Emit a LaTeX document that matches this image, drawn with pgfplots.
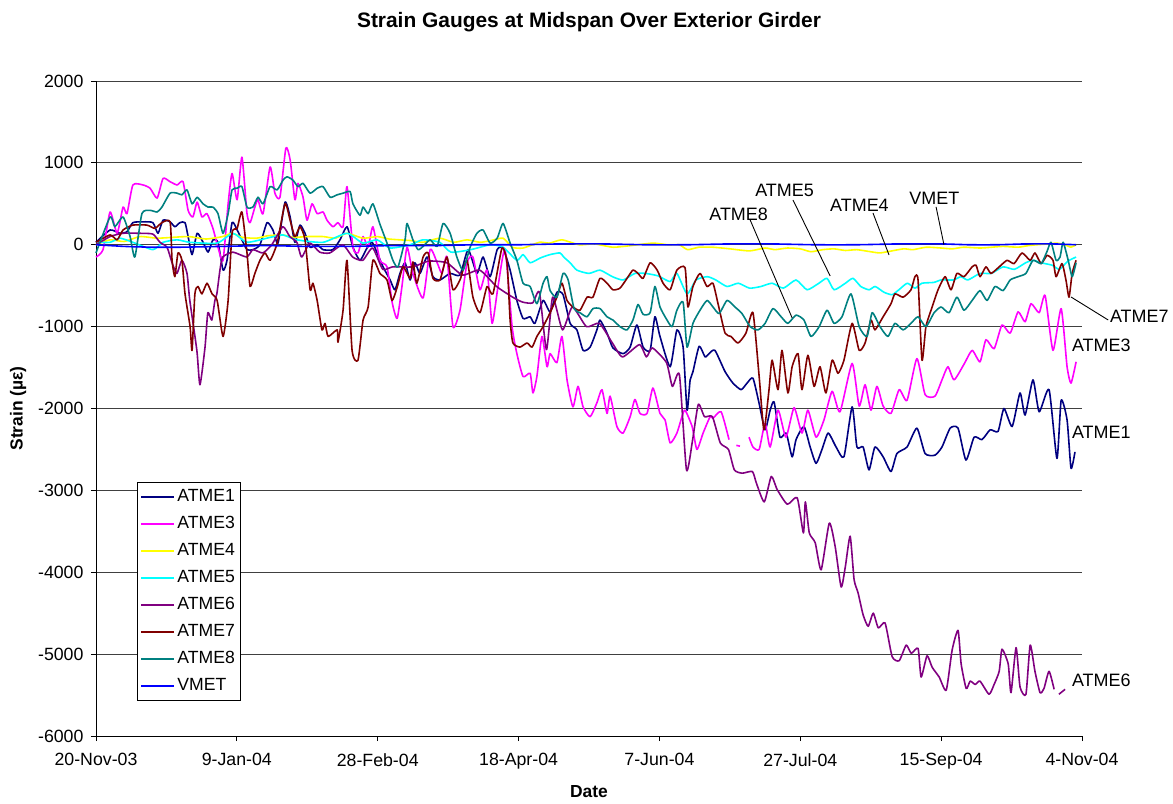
\documentclass[border=0pt]{standalone}
\usepackage{fontspec}
\setmainfont{Liberation Sans}
\usepackage{pgfplots}
\pgfplotsset{compat=1.18}
\definecolor{cAa}{RGB}{0,0,128}
\definecolor{cAc}{RGB}{255,0,255}
\definecolor{cAd}{RGB}{255,255,0}
\definecolor{cAe}{RGB}{0,255,255}
\definecolor{cAf}{RGB}{128,0,128}
\definecolor{cAg}{RGB}{128,0,0}
\definecolor{cAh}{RGB}{0,128,128}
\definecolor{cV}{RGB}{0,0,255}
\newcommand{\af}{\fontsize{18}{20}\selectfont}
\begin{document}
\begin{tikzpicture}
\begin{axis}[
  at={(96bp,68bp)}, anchor=south west,
  scale only axis, width=986bp, height=655bp,
  xmin=0, xmax=350, ymin=-6000, ymax=2000,
  axis x line*=bottom, axis y line*=left,
  axis line style={-, black, line width=1bp},
  xtick={0,50,...,350},
  xticklabels={20-Nov-03,9-Jan-04,28-Feb-04,18-Apr-04,7-Jun-04,27-Jul-04,15-Sep-04,4-Nov-04},
  ytick={-6000,-5000,...,2000},
  yticklabels={-6000,-5000,-4000,-3000,-2000,-1000,0,1000,2000},
  ymajorgrids, grid style={black!75, line width=0.9bp},
  tick align=outside, major tick length=5bp,
  tick style={black, line width=1bp},
  ticklabel style={font=\fontsize{17.8}{20}\selectfont},
  xticklabel style={yshift=-9bp},
  yticklabel style={xshift=-4bp},
  title={Strain Gauges at Midspan Over Exterior Girder},
  title style={font=\bfseries\fontsize{21}{24}\selectfont, at={(0.5,1.0805)}, anchor=center},
  xlabel={Date},
  xlabel style={font=\bfseries\fontsize{17.5}{20}\selectfont, at={(0.5,-0.085)}, anchor=center},
  ylabel={Strain (µε)},
  ylabel style={font=\bfseries\fontsize{17.5}{20}\selectfont, at={(-0.0791,0.5)}, anchor=center},
  clip=false,
  unbounded coords=jump,
  every axis plot/.append style={line width=1.6bp, line join=round, no markers, smooth, tension=0.35},
  legend cell align=left,
  legend style={at={(0.0416,0.388)}, anchor=north west, draw=black, line width=0.8bp,
    fill=white, font=\fontsize{17.7}{20}\selectfont, inner xsep=3bp, inner ysep=1bp,
    row sep=0pt,
    nodes={inner sep=0bp, text height=13bp, text depth=4bp, inner ysep=5bp, inner xsep=2.5bp}},
  legend image code/.code={\draw[#1, line width=1.5bp, sharp plot] (0bp,0bp) -- (33bp,0bp);},
]
% ATME1
\addplot[cAa] coordinates {(0,30)(5,180)(8.5,140)(11,160)(13.1,270)(16.7,280)(20.2,270)(22,140)(23.8,300)(26.3,280)(28,220)(29.8,270)(31.6,270)(32.7,100)(34.1,-120)(35.9,140)(38,30)(39.8,-90)(41.5,60)(43.3,30)(45.1,-310)(46.5,-190)(48.3,270)(50.1,180)(51.8,60)(53.6,-60)(55.7,-60)(58.2,0)(60.7,270)(62.8,180)(64.6,20)(67.1,520)(68.9,340)(70.6,30)(72.4,240)(74.2,140)(76,-30)(78.5,0)(80.6,-60)(84.1,-60)(86.6,60)(89.1,220)(91.2,-30)(93.7,-190)(96.2,-40)(98,30)(99.8,-100)(101.9,-270)(104.4,-430)(106.1,-550)(107.9,-350)(109.7,-220)(111.5,-430)(113.2,-220)(115,-350)(117.5,-150)(119.6,-390)(122.1,-430)(125.7,-350)(129.2,-370)(132.1,-60)(135.2,-350)(137.4,-150)(139.9,-390)(142.4,-60)(144.5,-40)(147,-310)(149.4,-680)(151.6,-900)(154.1,-880)(155.8,-960)(158.7,-680)(161.2,-820)(163.6,-580)(165.8,-610)(168.3,-960)(170.7,-1040)(172.9,-1290)(175.4,-1250)(177.8,-1040)(178.9,-920)(181.4,-1080)(183.5,-1260)(187.1,-1330)(189.6,-1250)(192,-980)(194.2,-1250)(196.7,-1290)(198.4,-880)(200.2,-1120)(203.8,-1490)(206.2,-1040)(208.4,-1250)(209.8,-2020)(210.9,-1650)(211.9,-1550)(214.1,-1240)(216.2,-1370)(217.6,-1330)(219.7,-1290)(223.3,-1550)(226.1,-1690)(229,-1770)(231.1,-1690)(233.2,-1630)(235.4,-1940)(237.5,-2260)(239.3,-2020)(240.7,-1920)(242.8,-2350)(245,-2300)(247.1,-2590)(248.5,-2380)(251.3,-2220)(253.5,-2470)(255.6,-2670)(257.7,-2500)(259.9,-2300)(262.7,-2470)(265.5,-2590)(268.4,-1980)(270.1,-2470)(272.3,-2470)(274.4,-2750)(276.5,-2470)(279.4,-2590)(282.2,-2770)(284.3,-2550)(287.9,-2470)(291.4,-2240)(294.3,-2550)(297.8,-2570)(300.3,-2470)(303.2,-2240)(306,-2240)(308.8,-2630)(311.7,-2350)(314.5,-2380)(317.4,-2260)(320.2,-2280)(322.3,-2000)(325.2,-2220)(328,-1810)(329.8,-2080)(332.6,-1650)(334.8,-2040)(338.3,-1770)(341.1,-2610)(342.6,-1900)(344.7,-2140)(346.1,-2730)(347.5,-2530)};
\addlegendentry{ATME1}
% ATME3
\addplot[cAc] coordinates {(0,-150)(2.5,-60)(5,400)(7.5,140)(9.6,460)(11,380)(13.1,730)(16.7,730)(19.2,690)(21.7,570)(23.8,810)(26.3,770)(28.8,730)(30.9,770)(32.7,420)(34.4,340)(35.9,520)(37.6,340)(39.4,380)(41.5,200)(43.3,-30)(45.1,-190)(46.9,500)(48.3,870)(50.1,550)(51.8,1070)(53.6,380)(54.7,270)(56.4,460)(57.5,550)(59.3,380)(61.8,950)(63.5,630)(65.3,580)(67.4,1180)(68.9,1040)(70.6,550)(71.7,750)(73.5,580)(74.9,300)(76.7,500)(78.5,380)(80.6,400)(82,300)(84.1,220)(85.9,270)(87.7,220)(89.1,710)(91.2,-30)(93,-100)(94.8,100)(96.6,-30)(98.3,220)(100.8,-190)(103.3,-270)(105.1,-700)(106.9,-900)(108.6,-510)(110.4,-30)(112.5,-350)(116.1,-650)(118.6,-60)(121.1,-220)(122.8,-350)(124.6,-150)(126.7,-1000)(129.2,-800)(131.7,-220)(133.8,-150)(136.3,-550)(138.8,-310)(140.6,-960)(142.7,-510)(145.2,-60)(147.7,-1000)(149.4,-1330)(151.6,-1610)(154.1,-1570)(155.1,-1810)(156.5,-1610)(158.3,-1120)(160.1,-1490)(161.2,-1330)(163.6,-1440)(165.4,-1120)(167.2,-1650)(169.3,-1980)(171.1,-1730)(172.9,-1980)(175.4,-2100)(177.8,-1930)(179.6,-1770)(181.4,-2060)(182.5,-1850)(184.9,-2220)(187.1,-2300)(189.6,-2100)(191.3,-1890)(193.1,-2060)(195.6,-2060)(197.7,-1750)(200.2,-2060)(202,-2140)(203.8,-2420)(206.2,-2300)(208,-2100)(209.1,-2020)(211.6,-2220)(213.3,-2500)(215.5,-2300)(218,-2100)(219,-2120)(221.9,-2040)(224.7,-2380)(225.5,nan)(227.3,-2450)(228.6,-2460)(229.5,nan)(231.8,-2350)(233.2,-2470)(235.4,-2500)(237.5,-2180)(239.3,-2470)(242.1,-2020)(244.9,-2350)(247.8,-1990)(250.6,-2300)(252.7,-2020)(255.6,-2350)(258.4,-2140)(261.3,-1790)(264.1,-2040)(268.4,-1450)(270.9,-1970)(273,-1710)(275.1,-2020)(277.2,-1730)(279.4,-1970)(282.2,-2060)(285.1,-1770)(287.9,-1900)(291.4,-1390)(294.3,-1830)(297.8,-1850)(300.3,-1650)(302.4,-1490)(304.6,-1650)(308.1,-1460)(311,-1290)(313.8,-1430)(315.9,-1160)(318.8,-1270)(321.6,-980)(324.5,-1080)(327.3,-820)(329.8,-940)(331.9,-720)(334.8,-830)(336.9,-620)(339.7,-1290)(342.6,-780)(344.7,-1490)(346.1,-1690)(347.9,-1430)};
\addlegendentry{ATME3}
% ATME4
\addplot[cAd] coordinates {(0,0)(5,60)(10,40)(15.6,100)(21.7,80)(27,90)(33,100)(39,70)(45,100)(48.3,140)(52,90)(57,80)(61,110)(66.3,120)(70,90)(75,100)(80.6,100)(85,80)(89.1,140)(94.8,80)(99.8,100)(104,70)(107.9,60)(112,50)(116,30)(122,80)(127,30)(131.7,60)(136.3,30)(140,50)(144.5,80)(147.7,-30)(151.6,-40)(157.4,30)(161,20)(165.4,60)(171.5,0)(177,10)(183.5,-30)(190,-10)(197.7,20)(203,0)(207,0)(210,-60)(214,-30)(219,-30)(225,-50)(232,-75)(237.5,-40)(241,-60)(245.4,-40)(250,-50)(253.8,-85)(258,-60)(262,-50)(266,-70)(270,-60)(274,-80)(278,-100)(281,-85)(286.6,-50)(290,-60)(294.7,-30)(300,-40)(304,-50)(308,-30)(313.8,-40)(318,-30)(322,-20)(327.3,-30)(331,-10)(334,0)(338,10)(341,20)(344,0)(346,-30)(347.9,0)};
\addlegendentry{ATME4}
% ATME5
\addplot[cAe] coordinates {(0,30)(5,30)(8.5,80)(13.1,30)(20.2,-60)(23.8,30)(28.8,60)(33.3,30)(43,20)(48.6,140)(53.6,30)(61.8,90)(66.3,120)(71.3,60)(80.6,30)(89.1,140)(94.7,20)(99.8,60)(104.4,-40)(111.5,0)(116,60)(122,30)(126,-90)(133,-60)(140,0)(144.5,-30)(149.4,-190)(151.6,-120)(154.1,-220)(157.8,-160)(161.2,-120)(164.7,-100)(166,-150)(168.3,-220)(170.7,-310)(175,-350)(178.9,-310)(183.3,-390)(187.1,-430)(191.3,-350)(195,-350)(199.5,-380)(203.8,-450)(206.2,-350)(209.8,-600)(213,-430)(217,-390)(220,-430)(224,-510)(228,-470)(232,-530)(236,-510)(240,-470)(244,-530)(248.5,-430)(252.4,-550)(256.6,-470)(259.5,-410)(262,-550)(266,-470)(268.7,-410)(271.5,-510)(274.4,-550)(276.6,-510)(279.7,-580)(282.6,-610)(285,-550)(288,-470)(290.7,-530)(293.2,-470)(297.4,-460)(300,-430)(304.4,-430)(307,-390)(309.5,-430)(313.8,-350)(317.8,-350)(322,-270)(326,-300)(330,-220)(332.6,-190)(335.5,-220)(339.4,-250)(342,-300)(345,-200)(347.9,-150)};
\addlegendentry{ATME5}
% ATME6
\addplot[cAf] coordinates {(0,0)(5,100)(9.6,140)(15.6,140)(20.2,130)(22.7,30)(25.2,-30)(27,-220)(28.7,-350)(30.5,-190)(32.3,-350)(33.3,-680)(35.8,-1290)(36.9,-1710)(38.7,-1250)(39.7,-830)(41.1,-920)(42.2,-680)(42.9,-600)(44,-310)(45,-150)(48.6,-90)(53.5,-150)(55.7,-60)(59.2,-100)(62.4,0)(66.3,220)(68.8,100)(71.3,30)(73,-150)(75.9,20)(79.4,-90)(83,-100)(87.6,0)(91.1,-150)(94.7,-190)(98.2,-40)(101.8,-300)(105.3,-270)(112.4,-270)(118,-200)(124.5,-220)(130.1,-370)(136.2,-310)(142.2,-510)(147.9,-640)(151.4,-700)(155,-710)(157.4,-580)(159.9,-1280)(162.1,-640)(165.6,-1040)(169.1,-760)(174.1,-1000)(178.7,-960)(183.3,-1200)(186.9,-1370)(192.9,-1220)(195.4,-1370)(197.5,-1260)(202.5,-1440)(204.6,-1730)(207.1,-1590)(209.6,-2750)(211.7,-2400)(213.8,-1950)(216,-2100)(218.8,-2100)(221.6,-2420)(224.5,-2500)(226.6,-2750)(229.4,-2790)(233,-2770)(234.4,-2910)(237.2,-3140)(239.7,-2830)(241.8,-2990)(245.4,-3170)(248.9,-3090)(251.1,-3520)(251.8,-3140)(253.2,-3520)(255.3,-3640)(257.4,-3970)(260.3,-3400)(262.4,-3690)(264.5,-4180)(266,-3930)(267.7,-3560)(269.1,-4090)(270.5,-4250)(272.3,-4520)(274.1,-4660)(275.9,-4500)(277.7,-4680)(280.1,-4620)(282.6,-5030)(285.1,-5080)(287.6,-4890)(289.4,-4990)(291.8,-4930)(292.9,-5280)(295,-5020)(296.8,-5160)(299.3,-5280)(301.8,-5440)(303.9,-4950)(306,-4710)(307.1,-5120)(308.9,-5420)(310.3,-5330)(312.1,-5370)(313.8,-5330)(317,-5490)(318.8,-5370)(320.6,-5210)(321.6,-4940)(323.8,-5120)(324.8,-5470)(326.6,-4920)(328,-5400)(330.1,-5490)(331.6,-4890)(333.3,-5210)(335.1,-5470)(336.5,-5420)(338.3,-5210)(340.1,-5430)(341,nan)(341.8,-5490)(344,-5430)};
\addlegendentry{ATME6}
% ATME7
\addplot[cAg] coordinates {(0,30)(5,120)(7.5,60)(9.6,180)(13.1,240)(18.1,240)(20.9,200)(23.4,270)(26.3,280)(27,-190)(28,-390)(29.1,-100)(30.5,-190)(31.6,-600)(33.4,-1000)(34.1,-1290)(35.1,-600)(36.2,-510)(37.6,-600)(39.4,-470)(41.2,-600)(43,-680)(45.1,-1120)(46.9,-680)(48.3,140)(50.1,200)(51.8,400)(53.6,-100)(54.7,-510)(56.4,-350)(58.2,-190)(60,-100)(61.8,-190)(64.3,20)(67.1,500)(68.9,300)(70.6,100)(72.4,220)(74.2,60)(76,-550)(77,-470)(78.5,-680)(80.2,-1040)(81.3,-960)(82.4,-1120)(85.6,-1040)(85.9,-1190)(87.7,-800)(89.1,-190)(90.9,-1290)(93,-1410)(94.8,-920)(96.6,-760)(98.3,-190)(100.8,-350)(103.3,-430)(105.1,-680)(106.9,-520)(109,-270)(111.5,-410)(112.5,-210)(113.9,-470)(116.1,-150)(117.9,-100)(119.6,-410)(122.1,-430)(124.6,-150)(126.7,-550)(129.2,-430)(131.7,-190)(133.8,-640)(136.3,-830)(138.8,-510)(140.9,-600)(144.1,-40)(145.9,-220)(147,-920)(148,-1200)(150.5,-1250)(153,-1200)(154.8,-1250)(156.5,-1120)(158.7,-1000)(161.2,-830)(163.6,-640)(165.4,-470)(167.2,-680)(169.3,-760)(171.8,-800)(174.3,-640)(176.4,-640)(178.9,-410)(181.4,-470)(183.5,-550)(186,-530)(188.5,-410)(190.6,-310)(192.4,-350)(194.2,-410)(196.7,-220)(199.2,-310)(201.3,-470)(203.8,-550)(206.2,-310)(209.1,-280)(210.1,-760)(211.9,-510)(214.4,-350)(216.9,-510)(219,-470)(220.8,-720)(223.3,-1080)(225.4,-1120)(227.9,-1200)(230.7,-1080)(233.2,-830)(235.4,-1610)(237.1,-2260)(238.9,-1770)(240,-1410)(242.1,-1770)(243.5,-1290)(245.6,-1810)(247.1,-1490)(249.2,-1330)(250.6,-1770)(252.7,-1350)(254.9,-1730)(257,-1490)(259.1,-1810)(261.3,-1410)(263.4,-1570)(265.5,-1410)(268.4,-960)(270.9,-1290)(273,-1200)(275.1,-920)(276.5,-1040)(279.4,-880)(282.2,-720)(283.6,-600)(286.5,-640)(289.3,-550)(290.7,-390)(291.8,-430)(293.2,-1410)(294.6,-1000)(296.8,-760)(298.9,-550)(301.4,-390)(303.5,-550)(305.6,-350)(308.1,-390)(311,-270)(312.4,-250)(313.8,-390)(315.9,-270)(317.7,-350)(320.6,-270)(323.4,-190)(325.9,-230)(328.7,-100)(331.6,-190)(333.3,-100)(335.5,-230)(337.6,-130)(339.7,-190)(340.8,-390)(342.9,-230)(344.3,-430)(345.4,-640)(346.5,-350)(347.9,-190)};
\addlegendentry{ATME7}
% ATME8
\addplot[cAh] coordinates {(0,-100)(5,340)(6.7,220)(9.6,340)(12.1,100)(13.8,-150)(16.3,380)(19.2,420)(21.7,400)(23.4,460)(26.3,630)(28.8,630)(30.5,610)(32.3,670)(34.1,500)(35.9,580)(38,500)(39.8,460)(41.5,460)(43.3,380)(45.1,140)(46.9,380)(48.3,670)(50.1,690)(51.8,710)(53.6,460)(55.7,460)(57.5,580)(59.3,500)(61.8,710)(64.3,670)(66.4,790)(67.8,830)(69.9,790)(71.7,710)(73.5,750)(76,630)(78.5,690)(80.6,710)(83.1,580)(85.6,610)(87.7,630)(90.2,650)(91.2,500)(93.7,360)(94.8,460)(96.6,380)(98.3,500)(100.8,250)(103.3,20)(105.4,-190)(107.2,-270)(109.7,60)(110.4,260)(112.5,60)(114.3,-60)(116.1,-20)(118.6,60)(121.1,-20)(123.2,260)(125.7,140)(128.1,-150)(130.3,-310)(132.8,-30)(135.2,140)(137.4,180)(139.9,20)(142.4,80)(144.5,260)(147,20)(149.4,-190)(151.6,-470)(154.1,-510)(156.5,-720)(158.7,-470)(160.1,-390)(161.2,-560)(163.6,-640)(165.8,-350)(167.6,-430)(169.7,-780)(171.8,-830)(174.3,-880)(176.4,-780)(178.9,-780)(181.4,-880)(183.5,-920)(186,-1000)(188.5,-1040)(190.6,-920)(192.4,-730)(194.2,-850)(196.7,-830)(198.4,-510)(200.2,-760)(202.7,-920)(204.5,-1000)(206.2,-800)(208.4,-700)(209.8,-1250)(211.9,-960)(214.4,-800)(216.9,-680)(219,-760)(221.2,-840)(224,-680)(226.8,-760)(229.3,-840)(232.2,-1000)(235,-1040)(237.5,-960)(240.3,-780)(243.2,-880)(245.6,-960)(248.5,-860)(251.3,-920)(253.8,-1120)(256.7,-1000)(259.5,-800)(262,-960)(264.8,-880)(268,-600)(270.9,-1000)(273.7,-1120)(275.5,-830)(278.3,-1000)(281.1,-1120)(283.6,-960)(286.5,-1040)(289.3,-960)(291.8,-880)(294.6,-1000)(297.5,-830)(300,-760)(302.8,-830)(305.6,-640)(308.1,-800)(311,-680)(313.8,-560)(316.3,-680)(319.1,-510)(322,-560)(324.5,-430)(327.3,-390)(330.1,-350)(332.6,-190)(335.5,-230)(337.6,-80)(339,30)(340.8,-190)(342.2,-150)(343.3,30)(345.1,-190)(346.5,-390)(347.9,-220)};
\addlegendentry{ATME8}
% VMET
\addplot[cV] coordinates {(0,0)(10,-20)(20,-30)(30,-30)(45,-20)(60,-10)(75,-20)(90,-20)(105,-10)(120,-10)(135,0)(150,0)(165,10)(180,10)(195,0)(210,0)(225,10)(240,10)(255,0)(270,0)(285,10)(300,10)(310,0)(320,0)(330,10)(340,10)(347.9,0)};
\addlegendentry{VMET}
% annotations
\node[anchor=center, font=\af, inner sep=0pt] at (axis cs:228.1,375) {ATME8};
\draw[black, line width=0.9bp] (axis cs:232.2,303) -- (axis cs:247.1,-893);
\node[anchor=center, font=\af, inner sep=0pt] at (axis cs:244.4,661) {ATME5};
\draw[black, line width=0.9bp] (axis cs:247.4,547) -- (axis cs:260.6,-381);
\node[anchor=center, font=\af, inner sep=0pt] at (axis cs:271.0,478) {ATME4};
\draw[black, line width=0.9bp] (axis cs:275.8,388) -- (axis cs:281.5,-125);
\node[anchor=center, font=\af, inner sep=0pt] at (axis cs:297.6,568) {VMET};
\draw[black, line width=0.9bp] (axis cs:298.2,462) -- (axis cs:301.0,0);
\draw[black, line width=0.9bp] (axis cs:346.1,-638) -- (axis cs:359.3,-919);
\node[anchor=west, font=\af, inner sep=0pt] at (axis cs:359.9,-880) {ATME7};
\node[anchor=west, font=\af, inner sep=0pt] at (axis cs:346.4,-1224) {ATME3};
\node[anchor=west, font=\af, inner sep=0pt] at (axis cs:346.4,-2287) {ATME1};
\node[anchor=west, font=\af, inner sep=0pt] at (axis cs:346.4,-5316) {ATME6};
\end{axis}
\pgfresetboundingbox
\path[use as bounding box] (0,0) rectangle (1173bp,804bp);
\end{tikzpicture}
\end{document}
